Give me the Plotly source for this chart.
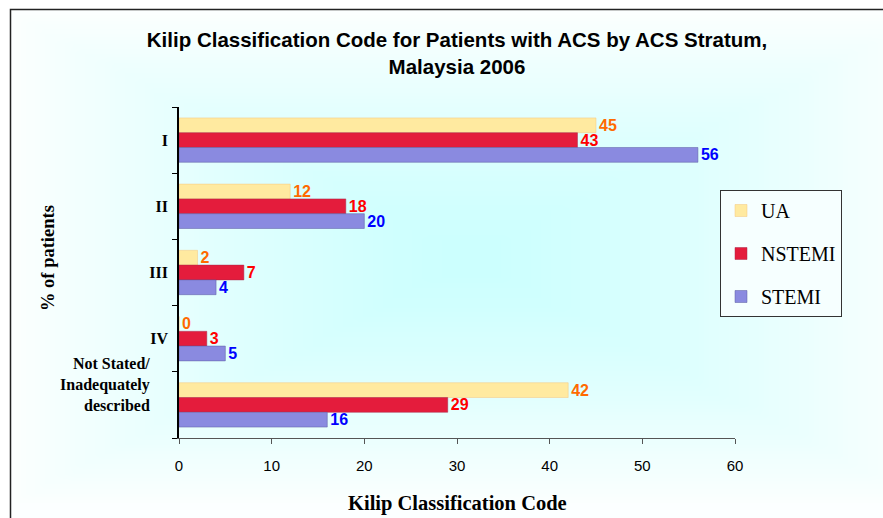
import base64, struct, zlib
import plotly.graph_objects as go

categories = ["I", "II", "III", "IV", "Not Stated/<br>Inadequately<br>described"]
series_names = ["UA", "NSTEMI", "STEMI"]
ua = [45, 12, 2, 0, 42]
nstemi = [43, 18, 7, 3, 29]
stemi = [56, 20, 4, 5, 16]
x_ticks = [0, 10, 20, 30, 40, 50, 60]

W, H = 883, 518
L, R, T, B = 179, 735, 107, 438


def gradient_png(w, h):
    rows = []
    cx, cy = w * 0.52, h * 0.48
    c0 = (204, 255, 254)
    c1 = (252, 255, 255)
    for j in range(h):
        row = bytearray([0])
        for i in range(w):
            dx = abs(i - cx) / cx
            dy = abs(j - cy) / cy
            t = min(1.0, max(dx, dy) ** 1.3)
            for k in range(3):
                row.append(int(c0[k] + (c1[k] - c0[k]) * t))
        rows.append(bytes(row))
    raw = b"".join(rows)

    def chunk(tag, data):
        c = struct.pack(">I", len(data)) + tag + data
        return c + struct.pack(">I", zlib.crc32(tag + data) & 0xFFFFFFFF)

    png = b"\x89PNG\r\n\x1a\n"
    png += chunk(b"IHDR", struct.pack(">IIBBBBB", w, h, 8, 2, 0, 0, 0))
    png += chunk(b"IDAT", zlib.compress(raw, 9))
    png += chunk(b"IEND", b"")
    return "data:image/png;base64," + base64.b64encode(png).decode()


def px_x(p):
    return (p - L) / (R - L)


def px_y(p):
    return (B - p) / (B - T)


fills = ["#ffeaa0", "#e41c3c", "#8a8ae0"]
lines = ["#f5c77e", "#a8284a", "#5a5aa0"]
text_cols = ["#ff6a00", "#ff0000", "#0000ff"]

SERIF = "Times New Roman, Liberation Serif, serif"

fig = go.Figure()
for name, vals, fc, lc, tc in zip(series_names, [ua, nstemi, stemi], fills, lines, text_cols):
    fig.add_trace(go.Bar(
        name=name, y=categories, x=vals, orientation="h",
        legendgroup=name,
        marker=dict(color=fc, line=dict(color=lc, width=0.5)),
        text=[str(v) for v in vals], textposition="outside",
        constraintext="none",
        textfont=dict(family="Arial", size=16, color=tc, weight="bold"),
        cliponaxis=False,
    ))

tick_text = categories[:-1] + [""]

fig.update_layout(
    width=W, height=H,
    margin=dict(l=L, r=W - R, t=T, b=H - B, autoexpand=False),
    paper_bgcolor="white", plot_bgcolor="rgba(0,0,0,0)",
    barmode="group", bargap=0.33, bargroupgap=0,
    title=dict(
        text="<b>Kilip Classification Code for Patients with ACS by ACS Stratum,<br>Malaysia 2006</b>",
        x=px_x(457), xanchor="center", xref="paper", y=1 - 47 / H, yanchor="middle",
        font=dict(family="Arial", size=20.5, color="black"),
    ),
    xaxis=dict(
        range=[0, 60], tickvals=x_ticks, showgrid=False, zeroline=False,
        showline=True, linecolor="#555555", linewidth=1, automargin=False,
        ticks="outside", ticklen=5, tickcolor="#555555",
        ticklabelstandoff=9,
        tickfont=dict(family="Arial", size=15, color="black"),
    ),
    yaxis=dict(
        autorange="reversed", showgrid=False, zeroline=False,
        showline=True, linecolor="black", linewidth=1.5, automargin=False,
        ticks="outside", ticklen=5, tickcolor="black", tickson="boundaries",
        tickmode="array", tickvals=categories, ticktext=tick_text,
        tickfont=dict(family=SERIF, size=16, color="black", weight="bold"),
        ticklabelstandoff=6,
    ),
    legend=dict(
        x=px_x(720), y=px_y(190), xanchor="left", yanchor="top",
        bgcolor="#f6ffff", bordercolor="#333333", borderwidth=1,
        font=dict(family=SERIF, size=20, color="black"),
        itemwidth=30, tracegroupgap=14,
    ),
    annotations=[
        dict(text="<b>Kilip Classification Code</b>", xref="paper", yref="paper",
             x=px_x(457), y=px_y(503), xanchor="center", yanchor="middle",
             showarrow=False, font=dict(family=SERIF, size=20.5, color="black")),
        dict(text="<b>% of patients</b>", xref="paper", yref="paper",
             x=px_x(48), y=px_y(258), xanchor="center", yanchor="middle",
             textangle=-90, showarrow=False,
             font=dict(family=SERIF, size=18.5, color="black")),
        dict(text="<b>" + categories[-1] + "</b>", xref="paper", yref="paper",
             x=px_x(152), y=px_y(384), xanchor="right", yanchor="middle", align="right",
             showarrow=False, font=dict(family=SERIF, size=16, color="black")),
    ],
    images=[dict(
        source=gradient_png(88, 52), xref="paper", yref="paper",
        x=px_x(10), y=px_y(9), sizex=px_x(883) - px_x(10), sizey=px_y(9) - px_y(518),
        xanchor="left", yanchor="top", sizing="stretch", layer="below",
    )],
    shapes=[dict(
        type="rect", xref="paper", yref="paper",
        x0=px_x(10.5), y0=px_y(9.5), x1=px_x(895), y1=px_y(530),
        line=dict(color="#222222", width=1.5), fillcolor="rgba(0,0,0,0)", layer="above",
    )],
    showlegend=True,
)

fig.write_html(
    "out.html",
    config={"displayModeBar": False},
    post_script="document.body.style.margin='0';document.body.style.overflow='hidden';window.dispatchEvent(new Event('resize'));",
)
